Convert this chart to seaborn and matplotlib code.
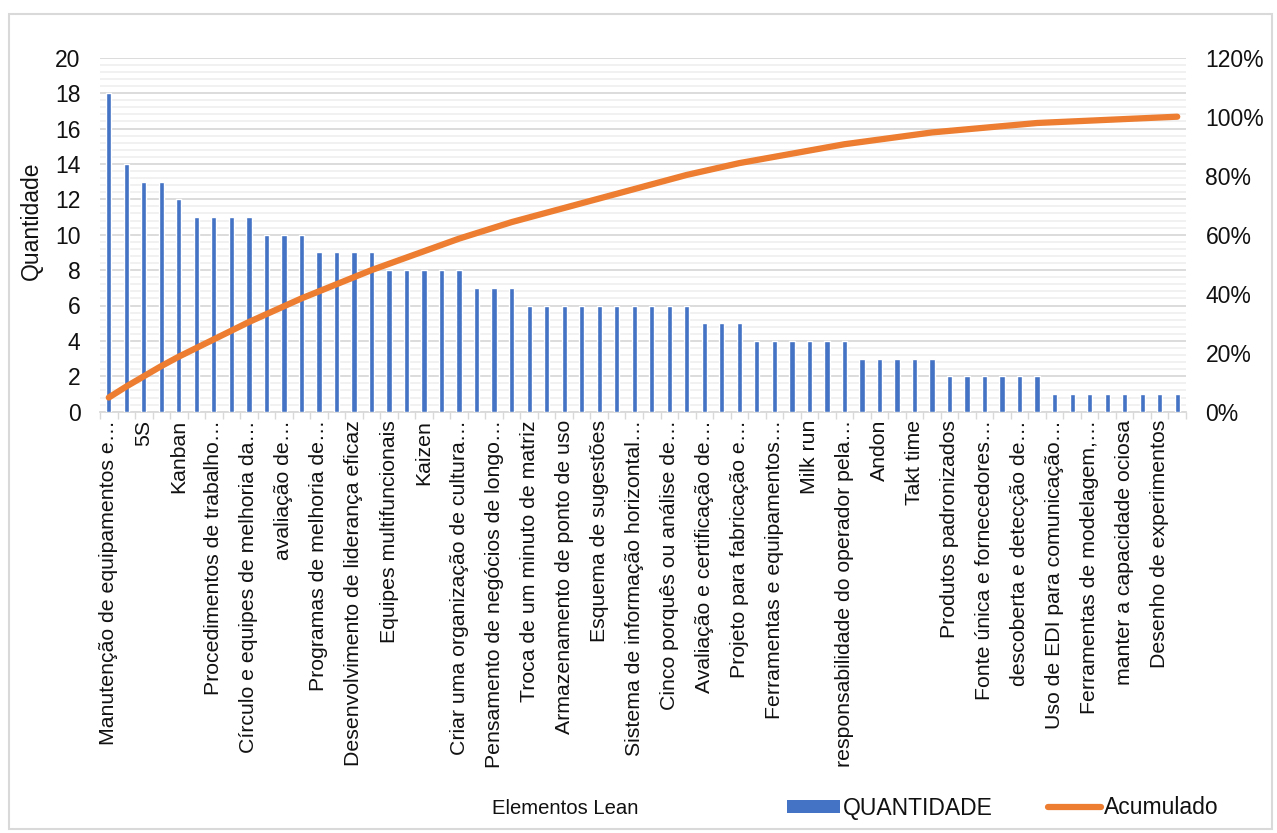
import matplotlib
matplotlib.use("Agg")
import matplotlib.pyplot as plt
from matplotlib.patches import Patch, Rectangle
from matplotlib.lines import Line2D
from matplotlib.ticker import MultipleLocator, PercentFormatter, FixedLocator
import numpy as np
import pandas as pd
import seaborn as sns

# Quantidade por elemento Lean (ordenado de forma decrescente)
quantidade = [18, 14, 13, 13, 12, 11, 11, 11, 11, 10, 10, 10, 9, 9, 9, 9,
              8, 8, 8, 8, 8, 7, 7, 7, 6, 6, 6, 6, 6, 6, 6, 6, 6, 6,
              5, 5, 5, 4, 4, 4, 4, 4, 4, 3, 3, 3, 3, 3,
              2, 2, 2, 2, 2, 2, 1, 1, 1, 1, 1, 1, 1, 1]

# Rótulos exibidos no eixo (um a cada dois elementos)
rotulos = [
    "Manutenção de equipamentos e…",
    "5S",
    "Kanban",
    "Procedimentos de trabalho…",
    "Círculo e equipes de melhoria da…",
    "avaliação de…",
    "Programas de melhoria de…",
    "Desenvolvimento de liderança eficaz",
    "Equipes multifuncionais",
    "Kaizen",
    "Criar uma organização de cultura…",
    "Pensamento de negócios de longo…",
    "Troca de um minuto de matriz",
    "Armazenamento de ponto de uso",
    "Esquema de sugestões",
    "Sistema de informação horizontal…",
    "Cinco porquês ou análise de…",
    "Avaliação e certificação de…",
    "Projeto para fabricação e…",
    "Ferramentas e equipamentos…",
    "Milk run",
    "responsabilidade do operador pela…",
    "Andon",
    "Takt time",
    "Produtos padronizados",
    "Fonte única e fornecedores…",
    "descoberta e detecção de…",
    "Uso de EDI para comunicação…",
    "Ferramentas de modelagem,…",
    "manter a capacidade ociosa",
    "Desenho de experimentos",
]

AZUL = "#4472C4"
LARANJA = "#ED7D31"
GRADE = "#d9d9d9"
GRADE_MENOR = "#f0f0f0"
TEXTO = "#111111"

sns.set_theme(style="white")
plt.rcParams["font.family"] = ["Liberation Sans", "DejaVu Sans"]
FS = 16.5      # valores dos eixos e legenda
FS_CAT = 15.3  # nomes dos elementos

n = len(quantidade)
df = pd.DataFrame({"posicao": np.arange(n), "quantidade": quantidade})
df["acumulado"] = df["quantidade"].cumsum() / df["quantidade"].sum()

W, H = 1277, 833
fig = plt.figure(figsize=(W / 100, H / 100), dpi=100)
left, right, top, bottom = 100, 1186, 57.7, 411.7
ax = fig.add_axes([left / W, 1 - bottom / H, (right - left) / W, (bottom - top) / H])

# moldura do gráfico
fig.patches.append(Rectangle((9 / W, 4 / H), 1263 / W, 815 / H, transform=fig.transFigure,
                             fill=False, edgecolor=GRADE, linewidth=1.5))

sns.barplot(data=df, x="posicao", y="quantidade", color=AZUL, saturation=1,
            width=0.3, ax=ax, zorder=3)

ax.set_ylim(0, 20)
ax.set_xlim(-0.5, n - 0.5)
ax.yaxis.set_major_locator(MultipleLocator(2))
ax.yaxis.set_minor_locator(MultipleLocator(0.4))
ax.grid(axis="y", which="major", color=GRADE, linewidth=1.3, zorder=0)
ax.grid(axis="y", which="minor", color=GRADE_MENOR, linewidth=1.3, zorder=0)
ax.set_axisbelow(True)

for s in ["top", "right", "left"]:
    ax.spines[s].set_visible(False)
ax.spines["bottom"].set_color(GRADE)
ax.spines["bottom"].set_linewidth(1.3)

ax.xaxis.set_major_locator(FixedLocator(np.arange(0, n, 2)))
ax.set_xticklabels(rotulos, rotation=90, ha="center", va="top", fontsize=FS_CAT)
ax.xaxis.set_minor_locator(FixedLocator(np.arange(-0.5, n, 1)))
ax.tick_params(axis="x", which="major", length=0, pad=6, colors=TEXTO)
ax.tick_params(axis="x", which="minor", length=5, width=1, color=GRADE, bottom=True)
ax.tick_params(axis="y", which="both", length=0, pad=14, labelsize=FS, colors=TEXTO)
ax.set_xlabel("")
ax.set_ylabel("Quantidade", fontsize=FS, color=TEXTO)
ax.yaxis.set_label_coords(-0.053, 0.54)

ax2 = ax.twinx()
sns.lineplot(data=df, x="posicao", y="acumulado", color=LARANJA, linewidth=4.5,
             ax=ax2, solid_capstyle="round", zorder=4)
ax2.set_ylim(0, 1.2)
ax2.yaxis.set_major_locator(MultipleLocator(0.2))
ax2.yaxis.set_major_formatter(PercentFormatter(1.0, decimals=0))
ax2.tick_params(axis="y", length=0, pad=14, labelsize=FS, colors=TEXTO)
ax2.set_ylabel("")
for s in ax2.spines.values():
    s.set_visible(False)
ax2.set_xlim(-0.5, n - 0.5)

fig.text(565 / W, 1 - 808 / H, "Elementos Lean", ha="center", va="center",
         fontsize=14.6, color=TEXTO)

handles = [Patch(facecolor=AZUL, edgecolor="none"),
           Line2D([0], [0], color=LARANJA, linewidth=4.5, solid_capstyle="round")]
fig.legend(handles, ["QUANTIDADE", "Acumulado"], ncol=2, frameon=False,
           loc="center", bbox_to_anchor=(1003 / W, 1 - 808 / H), fontsize=FS,
           handlelength=2.3, handleheight=0.5, handletextpad=0.15, columnspacing=2.4,
           labelcolor=TEXTO)

fig.savefig("out.png", dpi=100, facecolor="white")
